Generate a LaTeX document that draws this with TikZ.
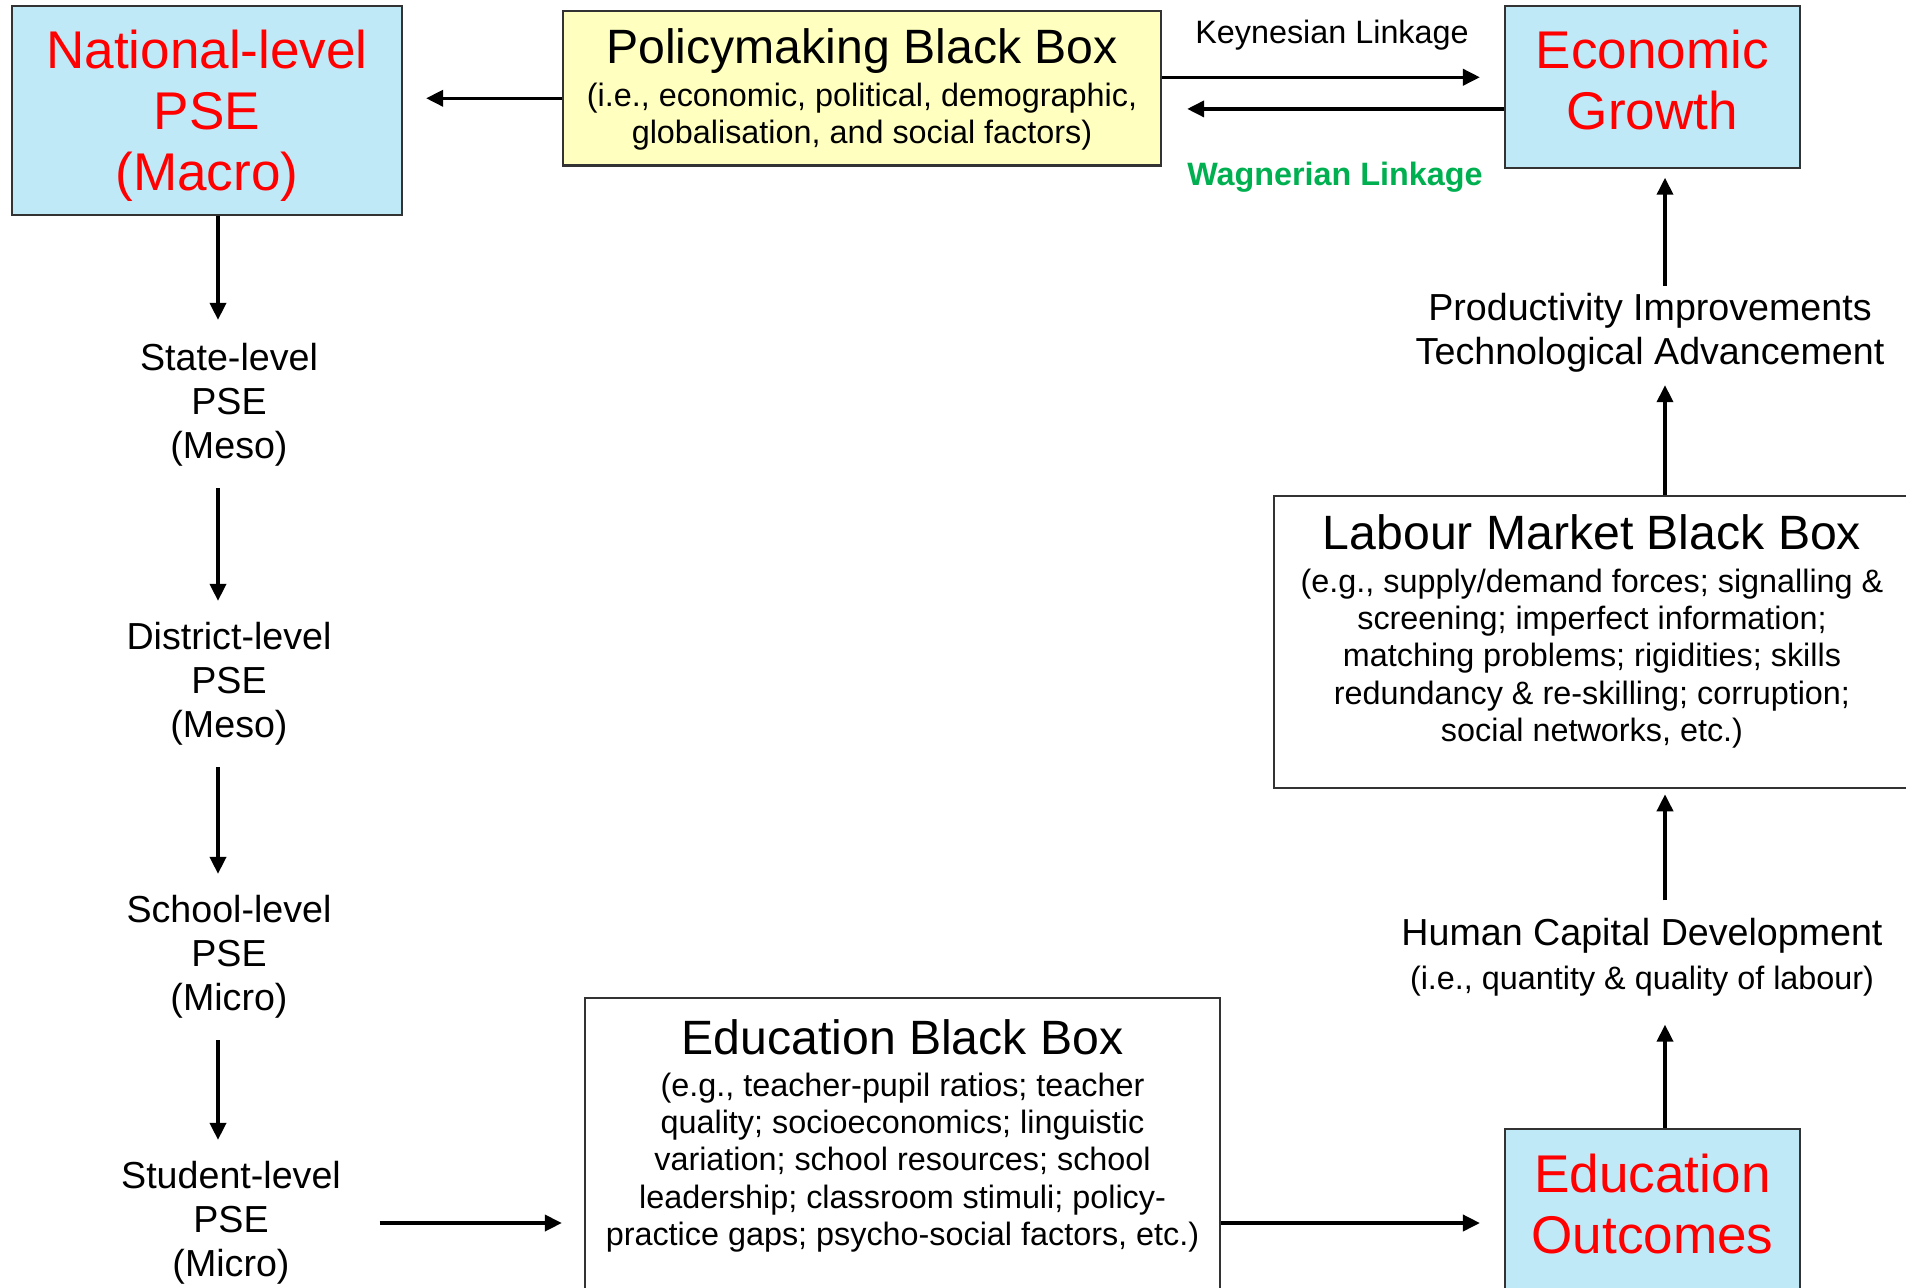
\documentclass[tikz,border=0pt]{standalone}
\usepackage{fontspec}
\setmainfont{Liberation Sans}
\usetikzlibrary{arrows.meta}

\definecolor{boxblue}{RGB}{192,233,248}
\definecolor{boxyellow}{RGB}{255,255,192}
\definecolor{linkgreen}{RGB}{0,176,80}
\newcommand{\bigtxt}{\fontsize{15.1}{17.4}\selectfont}
\newcommand{\headtxt}{\fontsize{13.7}{15.8}\selectfont}
\newcommand{\labtxt}{\fontsize{10.7}{12.5}\selectfont}
\newcommand{\smalltxt}{\fontsize{9.2}{10.6}\selectfont}

\tikzset{
  outcome/.style={draw=black!80, line width=0.6pt, fill=boxblue, text=red, font=\bigtxt, align=center, anchor=north, minimum width=2.95cm, inner ysep=0.24cm},
  blackbox/.style={draw=black!80, line width=0.6pt, fill=white, font=\smalltxt, align=center, anchor=north},
  level/.style={font=\labtxt, align=center, inner sep=2pt},
  arr/.style={-{Triangle[length=4.8pt,width=4.6pt]}, line width=0.9pt},
}

\begin{document}
\begin{tikzpicture}[x=0.01cm, y=-0.01cm]
\useasboundingbox (0,0) rectangle (1906,1287);
\clip (0,0) rectangle (1906,1287);
\coordinate (lcol) at (218,0); \coordinate (rcol) at (1665,0);

% boxes (text sits at the top, box runs down by text depth)
\node[outcome, minimum width=3.9cm, text depth=-0.04cm] (national) at (207,5) {National-level\\PSE\\(Macro)};
\node[outcome, text depth=0.14cm] (growth) at (1652.5,5) {Economic\\Growth};
\node[outcome, inner ysep=0.25cm, text depth=2cm] (outcomes) at (1652.5,1128) {Education\\Outcomes};
\node[blackbox, fill=boxyellow, minimum width=5.98cm, inner ysep=0.18cm, text depth=0.04cm] (policy) at (862,10)
  {{\headtxt Policymaking Black Box}\\[1.4pt](i.e., economic, political, demographic,\\globalisation, and social factors)};
\node[blackbox, minimum width=6.36cm, inner ysep=0.19cm, text depth=0.28cm] (labour) at (1592,495)
  {{\headtxt Labour Market Black Box}\\[1.4pt](e.g., supply/demand forces; signalling \&\\screening; imperfect information;\\matching problems; rigidities; skills\\redundancy \& re-skilling; corruption;\\social networks, etc.)};
\node[blackbox, minimum width=6.35cm, inner ysep=0.21cm, text depth=2cm] (edubox) at (902.5,997)
  {{\headtxt Education Black Box}\\[1.4pt](e.g., teacher-pupil ratios; teacher\\quality; socioeconomics; linguistic\\variation; school resources; school\\leadership; classroom stimuli; policy-\\practice gaps; psycho-social factors, etc.)};

% plain labels
\node[level] (state) at (229,405) {State-level\\PSE\\(Meso)};
\node[level] (district) at (229,684) {District-level\\PSE\\(Meso)};
\node[level] (school) at (229,957) {School-level\\PSE\\(Micro)};
\node[level] (student) at (231,1223) {Student-level\\PSE\\(Micro)};
\node[level] (product) at (1650,333) {Productivity Improvements\\Technological Advancement};
\node[level] (human) at (1642,957) {Human Capital Development\\{\smalltxt (i.e., quantity \& quality of labour)}};
\node[font=\smalltxt] (keynes) at (1332,35) {Keynesian Linkage};
\node[font=\smalltxt\bfseries, text=linkgreen] (wagner) at (1335,177) {Wagnerian Linkage};

% linkages along the top
\draw[arr, shorten >=0.23cm] ([yshift=-0.1cm]policy.west) -- ([yshift=-0.1cm]policy.west -| national.east);
\draw[arr, shorten >=0.24cm] ([yshift=0.11cm]policy.east) -- ([yshift=0.11cm]policy.east -| growth.west);
\draw[arr, shorten >=0.25cm] ([yshift=-0.22cm]growth.west) -- ([yshift=-0.22cm]growth.west -| policy.east);

% levels down the left
\draw[arr, shorten >=0.16cm] (national.south -| lcol) -- (state.north -| lcol);
\foreach \a/\b in {state/district, district/school, school/student}
  \draw[arr, shorten <=0.14cm, shorten >=0.14cm] (\a.south -| lcol) -- (\b.north -| lcol);

% through the education box
\draw[arr, shorten <=0.31cm, shorten >=0.22cm] (student.east) -- (student.east -| edubox.west);
\draw[arr, shorten >=0.24cm] (student.east -| edubox.east) -- (student.east -| outcomes.west);

% up the right side
\draw[arr, shorten >=0.21cm] (outcomes.north -| rcol) -- (human.south -| rcol);
\draw[arr, shorten <=0.1cm, shorten >=0.05cm] (human.north -| rcol) -- (labour.south -| rcol);
\draw[arr, shorten >=0.05cm] (labour.north -| rcol) -- (product.south -| rcol);
\draw[arr, shorten >=0.09cm] (product.north -| rcol) -- (growth.south -| rcol);
\end{tikzpicture}
\end{document}
